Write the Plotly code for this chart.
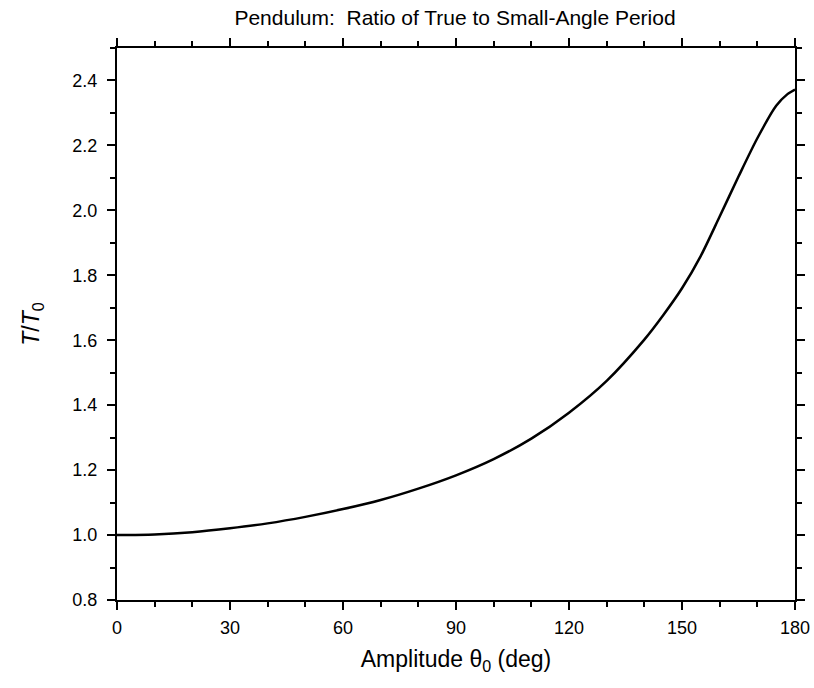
import plotly.graph_objects as go

amplitude_deg = [0, 10, 20, 30, 40, 50, 60, 70, 80, 90, 100, 110, 120, 130, 140,
                 145, 150, 155, 160, 165, 170, 175, 178, 180]
period_ratio = [1.000, 1.002, 1.009, 1.021, 1.036, 1.056, 1.080, 1.108, 1.143, 1.184,
                1.234, 1.297, 1.377, 1.475, 1.602, 1.677, 1.760, 1.860, 1.981, 2.104,
                2.222, 2.322, 2.358, 2.372]

x_ticks = [0, 30, 60, 90, 120, 150, 180]
y_ticks = [0.8, 1.0, 1.2, 1.4, 1.6, 1.8, 2.0, 2.2, 2.4]

font = "Liberation Sans, Arial, sans-serif"

fig = go.Figure()
fig.add_trace(go.Scatter(
    x=amplitude_deg, y=period_ratio, mode="lines",
    line=dict(color="black", width=2.5, shape="spline", smoothing=0.8),
    showlegend=False, hoverinfo="skip"))

axis_common = dict(
    showline=True, linecolor="black", linewidth=2, mirror="ticks",
    ticks="outside", ticklen=8, tickwidth=2, tickcolor="black",
    showgrid=False, zeroline=False,
    tickfont=dict(family=font, size=18, color="black"),
)

fig.update_xaxes(
    range=[0, 180], tickvals=x_ticks, ticktext=[str(v) for v in x_ticks],
    minor=dict(dtick=10, ticklen=5, tickwidth=2, tickcolor="black", ticks="outside"),
    title=dict(text="Amplitude θ<sub>0</sub> (deg)", font=dict(family=font, size=23, color="black"), standoff=14),
    ticklabelstandoff=2,
    **axis_common)
fig.update_yaxes(
    range=[0.8, 2.5], tickvals=y_ticks, ticktext=[f"{v:.1f}" for v in y_ticks],
    minor=dict(dtick=0.1, tick0=0.8, ticklen=5, tickwidth=2, tickcolor="black", ticks="outside"),
    title=dict(text="<i>T</i>/<i>T</i><sub>0</sub>", font=dict(family=font, size=23, color="black"), standoff=26),
    ticklabelstandoff=6,
    **axis_common)

fig.update_layout(
    width=814, height=688,
    margin=dict(l=117, r=19, t=48, b=88, autoexpand=False),
    paper_bgcolor="white", plot_bgcolor="white",
    title=dict(text="Pendulum:  Ratio of True to Small-Angle Period",
               font=dict(family=font, size=21, color="black"),
               x=0.559, xanchor="center", y=0.975, yanchor="middle"),
)

fig.write_html("out.html",
               config={"displayModeBar": False},
               post_script="document.body.style.margin='0';document.body.style.overflow='hidden';")
